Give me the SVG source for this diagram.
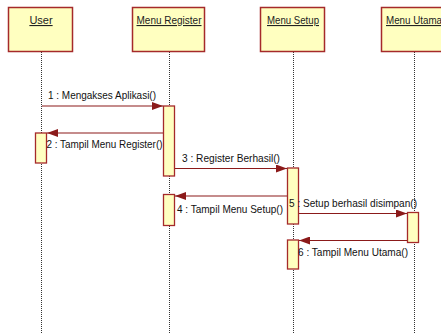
<svg xmlns="http://www.w3.org/2000/svg" width="441" height="334" viewBox="0 0 441 334">
<style>
.box{fill:#ffffc0;stroke:#a52a2a;stroke-width:1.5}
.act{fill:#ffffc0;stroke:#a52a2a;stroke-width:1.3}
.life{stroke:#333;stroke-width:1;stroke-dasharray:1,1;fill:none}
.msg{stroke:#8b1a1a;stroke-width:1.2;fill:none}
.hd{font-family:"Liberation Sans",Arial,sans-serif;font-size:11px;fill:#222;text-decoration:underline;text-anchor:middle}
.lb{font-family:"Liberation Sans",Arial,sans-serif;font-size:11px;fill:#111}
</style>
<defs>
<marker id="ah" markerWidth="11" markerHeight="8" refX="11" refY="4" orient="auto" markerUnits="userSpaceOnUse">
<path d="M0,0 L11,4 L0,8 Z" fill="#8b1a1a"/>
</marker>
</defs>
<g id="lifelines">
<line class="life" x1="41.5" y1="52" x2="41.5" y2="334"/>
<line class="life" x1="169.5" y1="52" x2="169.5" y2="334"/>
<line class="life" x1="293.5" y1="52" x2="293.5" y2="334"/>
<line class="life" x1="414.5" y1="52" x2="414.5" y2="334"/>
</g>
<g id="user"><rect class="box" x="8.5" y="7.5" width="64" height="44"/><text class="hd" x="41" y="24">User</text></g>
<g id="menu-register"><rect class="box" x="132.5" y="7.5" width="72" height="44"/><text class="hd" x="169" y="24" textLength="65" lengthAdjust="spacingAndGlyphs">Menu Register</text></g>
<g id="menu-setup"><rect class="box" x="260.5" y="7.5" width="64" height="44"/><text class="hd" x="293" y="24" textLength="52" lengthAdjust="spacingAndGlyphs">Menu Setup</text></g>
<g id="menu-utama"><rect class="box" x="381.5" y="7.5" width="66" height="44"/><text class="hd" x="414" y="24" textLength="56" lengthAdjust="spacingAndGlyphs">Menu Utama</text></g>
<g id="activations">
<rect class="act" x="163.5" y="106" width="11" height="70"/>
<rect class="act" x="35.5" y="133" width="11" height="30"/>
<rect class="act" x="163.5" y="194.5" width="11" height="31"/>
<rect class="act" x="287.5" y="168" width="11" height="56"/>
<rect class="act" x="407.5" y="212.5" width="11" height="30"/>
<rect class="act" x="287.5" y="240" width="11" height="29"/>
</g>
<g id="connectors">
<line class="msg" x1="42" y1="106" x2="163" y2="106" marker-end="url(#ah)"/>
<line class="msg" x1="163" y1="133" x2="47" y2="133" marker-end="url(#ah)"/>
<line class="msg" x1="175" y1="168.5" x2="287" y2="168.5" marker-end="url(#ah)"/>
<line class="msg" x1="287" y1="196" x2="175" y2="196" marker-end="url(#ah)"/>
<line class="msg" x1="299" y1="213.5" x2="407" y2="213.5" marker-end="url(#ah)"/>
<line class="msg" x1="407" y1="240.5" x2="299" y2="240.5" marker-end="url(#ah)"/>
</g>
<g id="labels">
<text class="lb" x="48" y="99" textLength="108" lengthAdjust="spacingAndGlyphs">1 : Mengakses Aplikasi()</text>
<text class="lb" x="46.5" y="148" textLength="116" lengthAdjust="spacingAndGlyphs">2 : Tampil Menu Register()</text>
<text class="lb" x="182" y="162" textLength="98" lengthAdjust="spacingAndGlyphs">3 : Register Berhasil()</text>
<text class="lb" x="177" y="213" textLength="106" lengthAdjust="spacingAndGlyphs">4 : Tampil Menu Setup()</text>
<text class="lb" x="289" y="207" textLength="128" lengthAdjust="spacingAndGlyphs">5 : Setup berhasil disimpan()</text>
<text class="lb" x="298" y="256" textLength="110" lengthAdjust="spacingAndGlyphs">6 : Tampil Menu Utama()</text>
</g>
</svg>
